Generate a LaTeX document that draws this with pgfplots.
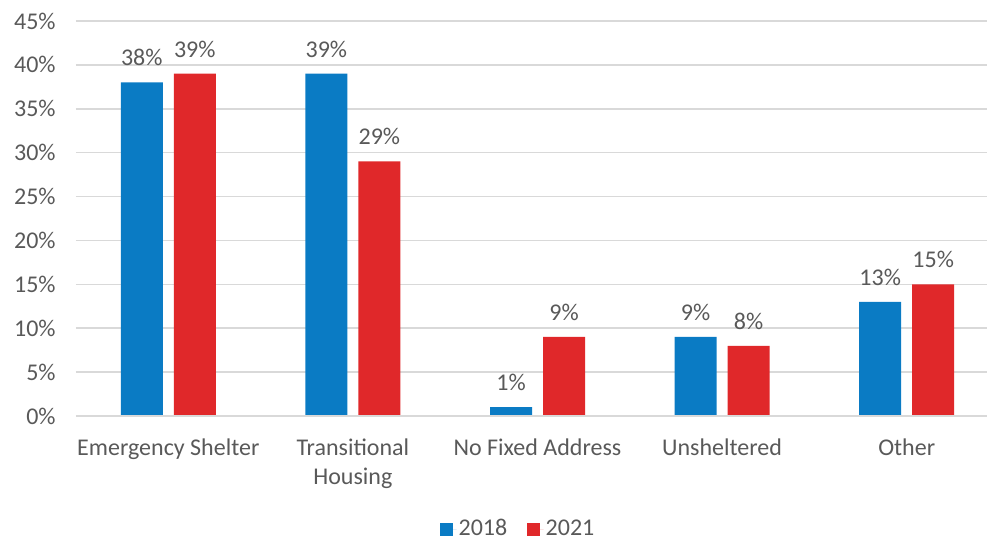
\documentclass[border=0pt]{standalone}
\usepackage{pgfplots}
\pgfplotsset{compat=1.18}
\usepackage{fontspec}
\setmainfont{Carlito}
\definecolor{cblue}{HTML}{0A7BC4}
\definecolor{cred}{HTML}{E0282A}
\definecolor{ctext}{HTML}{595959}
\definecolor{cgrid}{HTML}{D9D9D9}
\begin{document}
\fontsize{12}{14.5}\selectfont
\begin{tikzpicture}
\useasboundingbox (0,0) rectangle (493.5pt,270pt);
\begin{axis}[
  at={(38pt,62pt)}, anchor=south west,
  scale only axis, width=455.5pt, height=197.5pt,
  ybar=5.5pt, bar width=21pt,
  xmin=-0.5, xmax=4.435, ymin=0, ymax=45,
  ytick={0,5,...,45},
  xtick={0,1,2,3,4},
  xticklabels={Emergency Shelter,Transitional\\Housing,No Fixed Address,Unsheltered,Other},
  x tick label style={align=center, text=ctext, font=\fontsize{12}{14.5}\selectfont, yshift=-7pt},
  y tick label style={text=ctext, font=\fontsize{12}{14.5}\selectfont, xshift=-6pt},
  yticklabel={\pgfmathprintnumber{\tick}\%},
  /pgf/number format/assume math mode=true,
  major tick length=0pt,
  axis line style={draw=none},
  ymajorgrids, grid style={cgrid, line width=0.8pt},
  nodes near coords={\pgfmathprintnumber{\pgfplotspointmeta}\%},
  nodes near coords style={text=ctext, font=\fontsize{12}{14.5}\selectfont, yshift=4pt},
  legend style={at={(0.4855,-0.2865)}, anchor=center, legend columns=2, draw=none, fill=none,
    inner sep=0pt, outer sep=0pt,
    nodes={inner sep=1pt},
    font=\fontsize{12}{14.5}\selectfont, text=ctext,
    /tikz/every even column/.append style={column sep=9pt}},
  legend image code/.code={\fill[#1] (0pt,-3.2pt) rectangle (6.2pt,3pt); \path (0pt,0pt) -- (8.2pt,0pt);},
  clip=false,
]
\addplot[fill=cblue, draw=none] coordinates {(0,38) (1,39) (2,1) (3,9) (4,13)};
\addplot[fill=cred, draw=none] coordinates {(0,39) (1,29) (2,9) (3,8) (4,15)};
\draw[cgrid, line width=1pt] (axis cs:-0.5,0) -- (axis cs:4.435,0);
\legend{2018,2021}
\end{axis}
\end{tikzpicture}
\end{document}
